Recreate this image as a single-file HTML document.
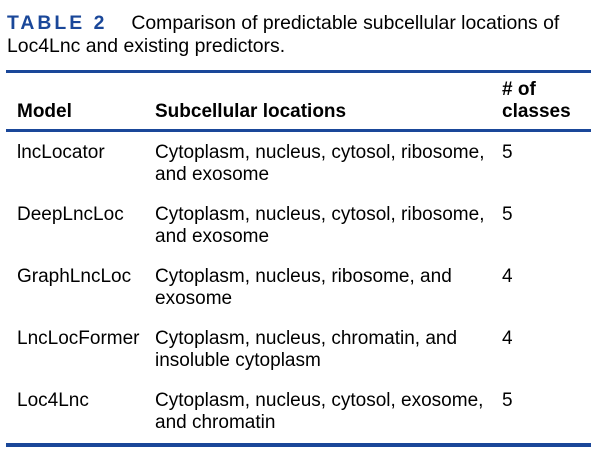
<!DOCTYPE html>
<html><head><meta charset="utf-8"><style>
body{margin:0;width:608px;height:459px;background:#fff;position:relative;overflow:hidden;font-family:"Liberation Sans",Arial,sans-serif;color:#000}
.t{position:absolute;font-size:19px;line-height:22px;white-space:nowrap}
.b{font-weight:bold}
.r{position:absolute;left:6px;width:585px;background:#1a4799}
.cap{color:#1a4799;font-weight:bold;letter-spacing:3px;display:inline-block;margin-right:24px}
</style></head><body>
<div class="t" style="left:7px;top:12px;font-size:19.4px"><span class="cap">TABLE 2</span>Comparison of predictable subcellular locations of</div>
<div class="t" style="left:7px;top:35px;font-size:19.4px">Loc4Lnc and existing predictors.</div>
<div class="r" style="top:70px;height:3px"></div>
<div class="t b" style="left:502px;top:79px">#&nbsp;of</div>
<div class="t b" style="left:17px;top:101px">Model</div>
<div class="t b" style="left:155px;top:101px">Subcellular locations</div>
<div class="t b" style="left:502px;top:101px">classes</div>
<div class="r" style="top:129px;height:3px"></div>

<div class="t" style="left:17px;top:142px">lncLocator</div>
<div class="t" style="left:155px;top:142px">Cytoplasm, nucleus, cytosol, ribosome,<br>and exosome</div>
<div class="t" style="left:502px;top:142px">5</div>

<div class="t" style="left:17px;top:204px">DeepLncLoc</div>
<div class="t" style="left:155px;top:204px">Cytoplasm, nucleus, cytosol, ribosome,<br>and exosome</div>
<div class="t" style="left:502px;top:204px">5</div>

<div class="t" style="left:17px;top:266px">GraphLncLoc</div>
<div class="t" style="left:155px;top:266px">Cytoplasm, nucleus, ribosome, and<br>exosome</div>
<div class="t" style="left:502px;top:266px">4</div>

<div class="t" style="left:17px;top:328px">LncLocFormer</div>
<div class="t" style="left:155px;top:328px">Cytoplasm, nucleus, chromatin, and<br>insoluble cytoplasm</div>
<div class="t" style="left:502px;top:328px">4</div>

<div class="t" style="left:17px;top:390px">Loc4Lnc</div>
<div class="t" style="left:155px;top:390px">Cytoplasm, nucleus, cytosol, exosome,<br>and chromatin</div>
<div class="t" style="left:502px;top:390px">5</div>

<div class="r" style="top:443px;height:4px"></div>
</body></html>
